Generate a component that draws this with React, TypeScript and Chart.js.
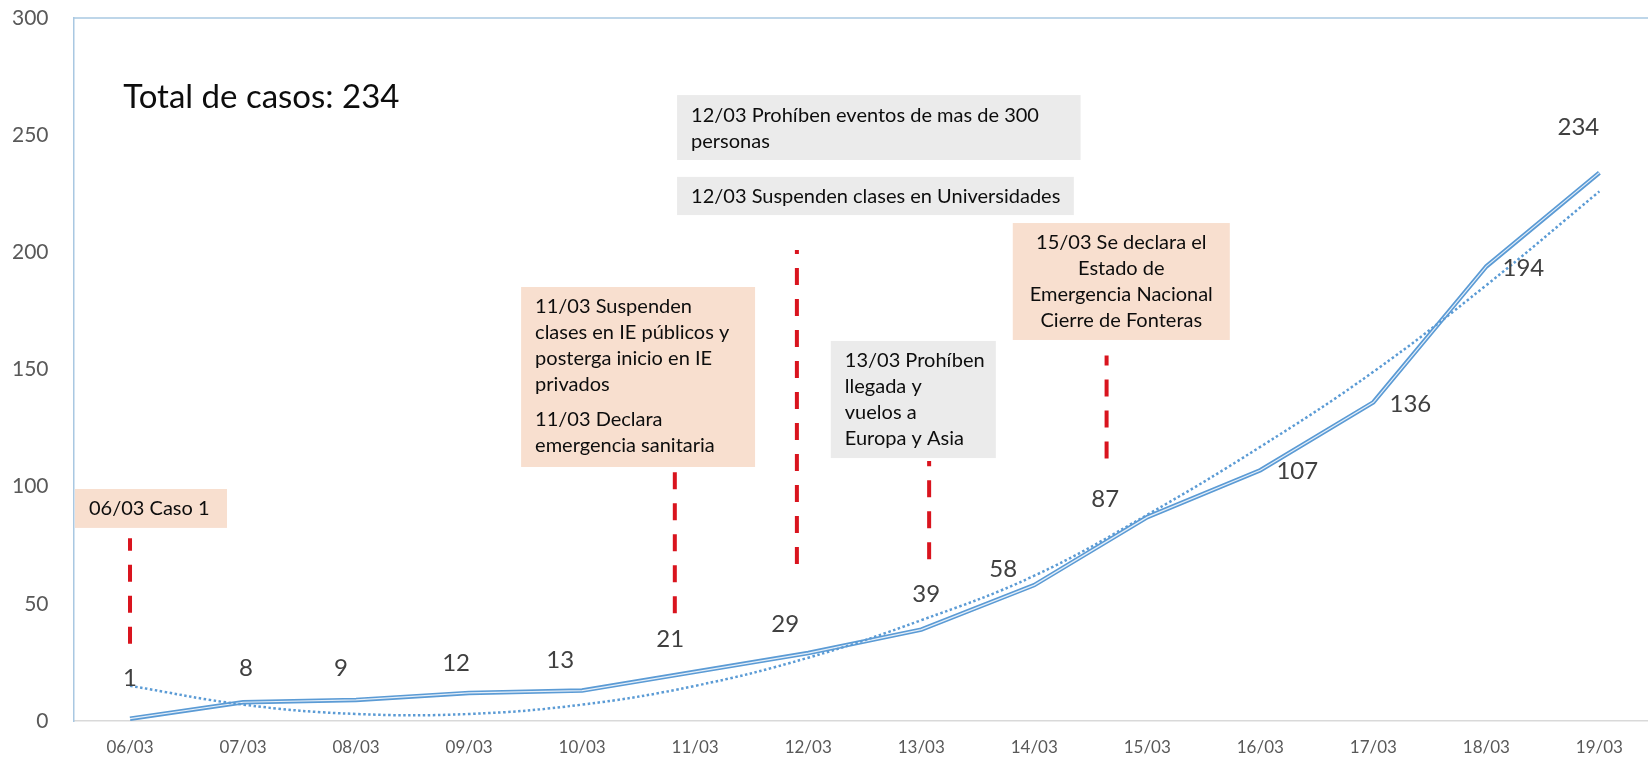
import React, { useEffect, useRef } from "react";
import { Chart, registerables } from "chart.js";

Chart.register(...registerables);

// ---- data ----
const dates = ["06/03", "07/03", "08/03", "09/03", "10/03", "11/03", "12/03", "13/03", "14/03", "15/03", "16/03", "17/03", "18/03", "19/03"];
const cases = [1, 8, 9, 12, 13, 21, 29, 39, 58, 87, 107, 136, 194, 234];
const trend = [15, 7, 3, 3, 7, 15, 27, 43, 62, 88, 117, 149, 186, 226];
const yTicks = [0, 50, 100, 150, 200, 250, 300];
const totalText = "Total de casos: 234";

// event markers: x in category index units, from/to in case values
const eventLines = [
  { x: 0, from: 33, to: 78 },
  { x: 4.82, from: 46, to: 109 },
  { x: 5.9, from: 67, to: 201 },
  { x: 7.07, from: 69, to: 111 },
  { x: 8.64, from: 112, to: 156 },
];

const PEACH = "#f8dfcf";
const GRAY = "#ebebeb";

const eventBoxes = [
  { x0: -0.487, x1: 0.858, y0: 99.0, y1: 82.4, fill: PEACH, align: "left", paras: [["06/03 Caso 1"]] },
  {
    x0: 3.46, x1: 5.53, y0: 185.2, y1: 108.4, fill: PEACH, align: "left",
    paras: [["11/03 Suspenden", "clases en IE públicos y", "posterga inicio en IE", "privados"], ["11/03 Declara", "emergencia sanitaria"]],
  },
  { x0: 4.84, x1: 8.41, y0: 267.1, y1: 239.4, fill: GRAY, align: "left", paras: [["12/03 Prohíben eventos de mas de 300", "personas"]] },
  { x0: 4.84, x1: 8.35, y0: 232.2, y1: 215.9, fill: GRAY, align: "left", paras: [["12/03 Suspenden clases en Universidades"]] },
  { x0: 6.2, x1: 7.66, y0: 162.2, y1: 112.2, fill: GRAY, align: "left", paras: [["13/03 Prohíben", "llegada y", "vuelos a", "Europa y Asia"]] },
  { x0: 7.81, x1: 9.73, y0: 212.5, y1: 162.6, fill: PEACH, align: "center", paras: [["15/03 Se declara el", "Estado de", "Emergencia Nacional", "Cierre de Fonteras"]] },
];

const titlePos = { x: -0.06, y: 266.3 };

// label offsets (px) from each point
const labelOffsets = [
  [0, -40], [3, -34], [-15, -32], [-13, -30], [-22, -30], [-25, -33], [-23, -29],
  [5, -35], [-31, -16], [-42, -18], [37, 1], [37, 2], [37, 2], [-21, -45],
];

const FONT = "Lato, 'Noto Sans', sans-serif";

const overlayPlugin = {
  id: "overlay",
  afterDatasetsDraw(chart: any) {
    const { ctx, chartArea, scales } = chart;
    const xs = scales.x;
    const ys = scales.y;
    ctx.save();
    // top border
    ctx.strokeStyle = "#a9c8e2";
    ctx.lineWidth = 1.5;
    ctx.beginPath();
    ctx.moveTo(chartArea.left, chartArea.top);
    ctx.lineTo(chartArea.right, chartArea.top);
    ctx.stroke();

    // red dashed event lines (drawn from bottom up)
    ctx.strokeStyle = "#d9141e";
    ctx.lineWidth = 4;
    ctx.setLineDash([17, 14]);
    ctx.lineCap = "butt";
    eventLines.forEach((l) => {
      const px = xs.getPixelForValue(l.x);
      ctx.beginPath();
      ctx.moveTo(px, ys.getPixelForValue(l.from));
      ctx.lineTo(px, ys.getPixelForValue(l.to));
      ctx.stroke();
    });
    ctx.setLineDash([]);

    // boxes
    eventBoxes.forEach((b) => {
      const left = xs.getPixelForValue(b.x0);
      const right = xs.getPixelForValue(b.x1);
      const top = ys.getPixelForValue(b.y0);
      const bottom = ys.getPixelForValue(b.y1);
      ctx.fillStyle = b.fill;
      ctx.fillRect(left, top, right - left, bottom - top);
      ctx.fillStyle = "#0d0d0d";
      ctx.font = `20px ${FONT}`;
      ctx.textBaseline = "middle";
      ctx.textAlign = b.align === "center" ? "center" : "left";
      const tx = b.align === "center" ? (left + right) / 2 : left + 14;
      let ty = top + 20;
      b.paras.forEach((p, pi) => {
        if (pi > 0) ty += 9;
        p.forEach((line) => {
          ctx.fillText(line, tx, ty);
          ty += 26;
        });
      });
    });

    // title
    ctx.fillStyle = "#0d0d0d";
    ctx.font = `33px ${FONT}`;
    ctx.textAlign = "left";
    ctx.textBaseline = "middle";
    ctx.fillText(totalText, xs.getPixelForValue(titlePos.x), ys.getPixelForValue(titlePos.y));

    // data labels
    ctx.fillStyle = "#404040";
    ctx.font = `24px ${FONT}`;
    ctx.textAlign = "center";
    cases.forEach((v, i) => {
      const px = xs.getPixelForValue(i) + labelOffsets[i][0];
      const py = ys.getPixelForValue(v) + labelOffsets[i][1];
      ctx.fillText(String(v), px, py);
    });
    ctx.restore();
  },
};

export default function App() {
  const ref = useRef<HTMLCanvasElement>(null);
  useEffect(() => {
    document.body.style.margin = "0";
    const points = cases.map((y, i) => ({ x: i, y }));
    const trendPts = trend.map((y, i) => ({ x: i, y }));
    const chart = new Chart(ref.current!, {
      type: "line",
      data: {
        datasets: [
          {
            data: trendPts, borderColor: "#5b9bd5", borderWidth: 2.5, borderDash: [2.5, 2.5],
            pointRadius: 0, tension: 0.4, order: 0, fill: false,
          },
          { data: points, borderColor: "#e4eef8", borderWidth: 1.2, pointRadius: 0, tension: 0, order: 1, fill: false },
          { data: points, borderColor: "#5b9bd5", borderWidth: 4.5, pointRadius: 0, tension: 0, order: 2, fill: false },
        ],
      },
      options: {
        responsive: false,
        animation: false,
        devicePixelRatio: 1,
        layout: { padding: { top: 18, right: 0, bottom: 0, left: 0 } },
        plugins: { legend: { display: false }, tooltip: { enabled: false }, title: { display: false } },
        scales: {
          x: {
            type: "linear",
            min: -0.5,
            max: 13.43,
            grid: { display: false, drawTicks: false },
            border: { display: true, color: "#d9d9d9", width: 1.5 },
            afterBuildTicks: (s: any) => { s.ticks = dates.map((_, i) => ({ value: i })); },
            afterFit: (s: any) => { s.height = 39; s.paddingLeft = 0; s.paddingRight = 0; },
            ticks: {
              autoSkip: false, maxRotation: 0, color: "#595959", padding: 16,
              font: { family: FONT, size: 17 },
              callback: (v: any) => dates[v] ?? "",
            },
          },
          y: {
            min: 0,
            max: 300,
            grid: { display: false, drawTicks: false },
            border: { display: true, color: "#a9c8e2", width: 1.5 },
            afterBuildTicks: (s: any) => { s.ticks = yTicks.map((v) => ({ value: v })); },
            afterFit: (s: any) => { s.width = 73.5; s.paddingTop = 0; s.paddingBottom = 0; },
            ticks: { color: "#595959", padding: 25, font: { family: FONT, size: 21 } },
          },
        },
      },
      plugins: [overlayPlugin],
    });
    return () => chart.destroy();
  }, []);
  return <canvas ref={ref} width={1648} height={760} style={{ display: "block", width: 1648, height: 760 }} />;
}
